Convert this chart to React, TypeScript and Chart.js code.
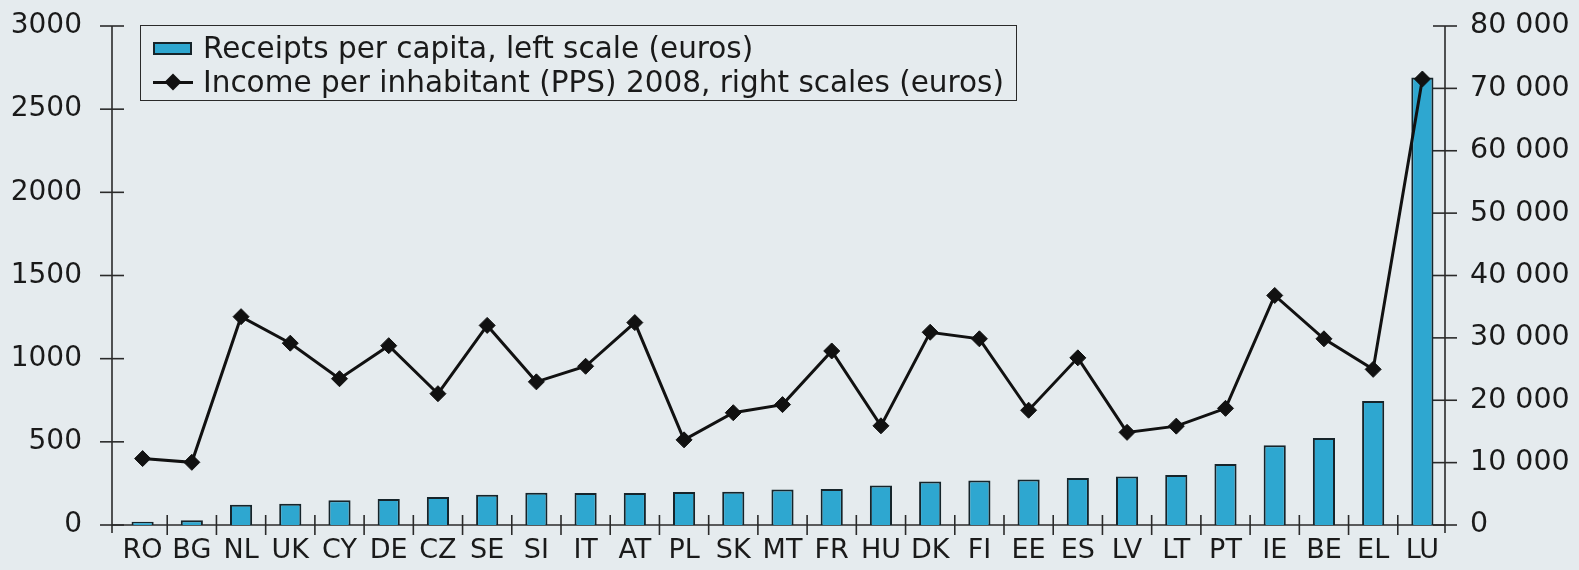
import React, { useEffect, useRef } from 'react';
import { Chart, registerables } from 'chart.js';

Chart.register(...registerables);

const categories = ['RO', 'BG', 'NL', 'UK', 'CY', 'DE', 'CZ', 'SE', 'SI', 'IT', 'AT', 'PL', 'SK', 'MT', 'FR', 'HU', 'DK', 'FI', 'EE', 'ES', 'LV', 'LT', 'PT', 'IE', 'BE', 'EL', 'LU'];
const receiptsPerCapita = [20, 28, 122, 128, 149, 157, 169, 182, 194, 193, 193, 199, 200, 214, 216, 237, 261, 268, 274, 283, 291, 301, 367, 479, 523, 745, 2690];
const incomePerInhabitant = [10650, 10050, 33400, 29150, 23450, 28750, 21050, 32000, 22950, 25450, 32450, 13650, 18000, 19300, 27900, 15900, 30900, 29850, 18400, 26800, 14850, 15850, 18700, 36800, 29850, 24950, 71500];
const leftTicks = [0, 500, 1000, 1500, 2000, 2500, 3000];
const rightTicks = [0, 10000, 20000, 30000, 40000, 50000, 60000, 70000, 80000];
const seriesLabels = ['Receipts per capita, left scale (euros)', 'Income per inhabitant (PPS) 2008, right scales (euros)'];

const FONT = "'DejaVu Sans', sans-serif";
const INK = '#1a1a1a';
const BAR = '#2ea7d0';
const BAR_EDGE = '#16242a';

const fmtSpace = (v: number) => String(v).replace(/\B(?=(\d{3})+(?!\d))/g, ' ');

const crossAxes = {
  id: 'crossAxes',
  beforeDatasetsDraw(chart: any) {
    const { ctx, chartArea: a, scales } = chart;
    const yL = scales.yL;
    const yR = scales.yR;
    const x = scales.x;
    const lx = a.left - 6;
    const rx = a.right - 2;
    const line = (x1: number, y1: number, x2: number, y2: number) => {
      ctx.beginPath();
      ctx.moveTo(x1, y1);
      ctx.lineTo(x2, y2);
      ctx.stroke();
    };
    ctx.save();
    ctx.strokeStyle = '#2a2a2a';
    ctx.lineWidth = 1.6;
    const base = yL.getPixelForValue(0);
    line(lx, yL.getPixelForValue(leftTicks[leftTicks.length - 1]), lx, base + 8);
    leftTicks.forEach((v) => {
      const p = yL.getPixelForValue(v);
      line(lx - 12, p, lx + 12, p);
    });
    line(rx, yR.getPixelForValue(rightTicks[rightTicks.length - 1]), rx, base + 8);
    rightTicks.forEach((v) => {
      const p = yR.getPixelForValue(v);
      line(rx - 12, p, rx + 12, p);
    });
    line(lx, base, rx, base);
    for (let i = 1; i < categories.length; i++) {
      const xp = (x.getPixelForValue(i - 1) + x.getPixelForValue(i)) / 2;
      line(xp, base - 10, xp, base + 10);
    }
    ctx.restore();
  },
};

export default function App() {
  const ref = useRef<HTMLCanvasElement>(null);

  useEffect(() => {
    document.body.style.margin = '0';
    document.body.style.background = '#e5ebee';
    const chart = new Chart(ref.current as HTMLCanvasElement, {
      type: 'bar',
      data: {
        labels: categories,
        datasets: [
          {
            type: 'line',
            label: seriesLabels[1],
            data: incomePerInhabitant,
            yAxisID: 'yR',
            borderColor: '#111',
            backgroundColor: '#111',
            borderWidth: 3,
            pointStyle: 'rectRot',
            pointRadius: 8,
            pointBackgroundColor: '#111',
            pointBorderColor: '#111',
            pointBorderWidth: 1,
            tension: 0,
            order: 0,
          } as any,
          {
            type: 'bar',
            label: seriesLabels[0],
            data: receiptsPerCapita,
            yAxisID: 'yL',
            backgroundColor: BAR,
            borderColor: BAR_EDGE,
            borderWidth: 2,
            barPercentage: 0.45,
            categoryPercentage: 1,
            order: 1,
          } as any,
        ],
      },
      options: {
        animation: false,
        responsive: false,
        devicePixelRatio: 1,
        layout: { padding: { top: 26, bottom: 0, left: 0, right: 0 } },
        plugins: { legend: { display: false }, tooltip: { enabled: false }, title: { display: false } },
        scales: {
          x: {
            type: 'category',
            offset: true,
            grid: { display: false, drawTicks: false },
            border: { display: false },
            ticks: { color: INK, font: { family: FONT, size: 27 }, padding: 10, maxRotation: 0, autoSkip: false },
            afterFit: (s: any) => { s.height = 45; s.paddingLeft = 0; s.paddingRight = 0; },
          },
          yL: {
            type: 'linear',
            position: 'left',
            min: 0,
            max: 3000,
            grid: { display: false, drawTicks: false },
            border: { display: false },
            ticks: { stepSize: 500, color: INK, font: { family: FONT, size: 28 }, padding: 36, callback: (v: any) => String(v) },
            afterFit: (s: any) => { s.width = 118; s.paddingTop = 0; s.paddingBottom = 0; },
          },
          yR: {
            type: 'linear',
            position: 'right',
            min: 0,
            max: 80000,
            grid: { display: false, drawTicks: false },
            border: { display: false },
            ticks: { stepSize: 10000, color: INK, font: { family: FONT, size: 28.5 }, padding: 23, callback: (v: any) => fmtSpace(Number(v)) },
            afterFit: (s: any) => { s.width = 132; s.paddingTop = 0; s.paddingBottom = 0; },
          },
        },
      },
      plugins: [crossAxes],
    });
    return () => chart.destroy();
  }, []);

  return (
    <div style={{ position: 'relative', width: 1579, height: 570 }}>
      <canvas ref={ref} width={1579} height={570} style={{ display: 'block', width: 1579, height: 570 }} />
      <div
        style={{
          position: 'absolute',
          left: 140,
          top: 25,
          width: 877,
          height: 76,
          boxSizing: 'border-box',
          border: '1.6px solid #2a2a2a',
          fontFamily: FONT,
          fontSize: 29.5,
          color: INK,
          lineHeight: '34px',
        }}
      >
        <div style={{ position: 'absolute', left: 12, top: 16, width: 39, height: 13, boxSizing: 'border-box', background: BAR, border: `2px solid ${BAR_EDGE}` }} />
        <div style={{ position: 'absolute', left: 62, top: 5, whiteSpace: 'nowrap' }}>{seriesLabels[0]}</div>
        <div style={{ position: 'absolute', left: 12, top: 54.5, width: 40, height: 3, background: '#111' }} />
        <div style={{ position: 'absolute', left: 26, top: 50, width: 12, height: 12, background: '#111', transform: 'rotate(45deg)' }} />
        <div style={{ position: 'absolute', left: 62, top: 39, whiteSpace: 'nowrap' }}>{seriesLabels[1]}</div>
      </div>
    </div>
  );
}
